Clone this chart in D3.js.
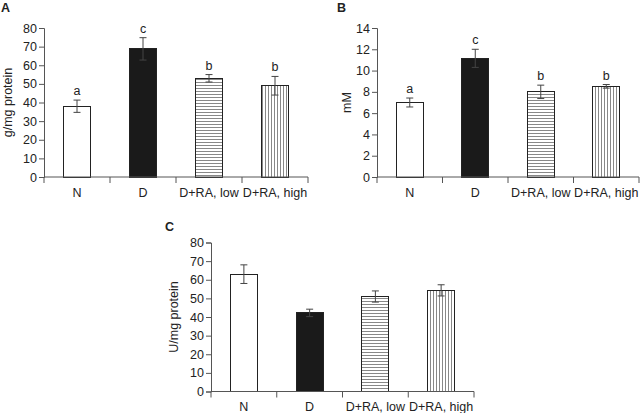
<!DOCTYPE html>
<html><head><meta charset="utf-8">
<script src="https://cdn.jsdelivr.net/npm/d3@7/dist/d3.min.js"></script>
<style>body{margin:0;background:#fff}svg{display:block}text{font-family:Arial,"Liberation Sans",sans-serif;fill:#222}</style>
</head><body><svg id="c" width="640" height="413"></svg>
<script>
const categories = ["N", "D", "D+RA, low", "D+RA, high"];
const fills = ["white", "black", "hlines", "vlines"];
const valuesA = [38, 68.8, 53, 49];
const errorsA = [3.3, 6, 2, 5];
const lettersA = ["a", "c", "b", "b"];
const ticksA = [0,10,20,30,40,50,60,70,80];
const valuesB = [7, 11.15, 8, 8.52];
const errorsB = [0.42, 0.85, 0.63, 0.17];
const lettersB = ["a", "c", "b", "b"];
const ticksB = [0,2,4,6,8,10,12,14];
const valuesC = [63, 42.2, 51, 54.3];
const errorsC = [5, 2, 3, 3];
const ticksC = [0,10,20,30,40,50,60,70,80];

const FS = 12.5;
const svg = d3.select("#c");
const defs = svg.append("defs");
const ph = defs.append("pattern").attr("id","hlines").attr("patternUnits","userSpaceOnUse").attr("width",4).attr("height",3);
ph.append("rect").attr("width",4).attr("height",3).attr("fill","white");
ph.append("line").attr("x1",0).attr("x2",4).attr("y1",1.5).attr("y2",1.5).attr("stroke","#888").attr("stroke-width",1);
const pv = defs.append("pattern").attr("id","vlines").attr("patternUnits","userSpaceOnUse").attr("width",3).attr("height",4);
pv.append("rect").attr("width",3).attr("height",4).attr("fill","white");
pv.append("line").attr("y1",0).attr("y2",4).attr("x1",1.5).attr("x2",1.5).attr("stroke","#888").attr("stroke-width",1);

function panel(o){
  const g = svg.append("g");
  const x = d3.scaleBand().domain(categories).range([o.x0, o.x1]).paddingInner(0.59).paddingOuter(0.295);
  const y = d3.scaleLinear().domain([0, o.max]).range([o.y0, o.y1]);
  g.selectAll("rect.bar").data(o.values).join("rect")
    .attr("x",(d,i)=>x(categories[i])).attr("width",x.bandwidth())
    .attr("y",d=>y(d)).attr("height",d=>y(0)-y(d))
    .attr("fill",(d,i)=>fills[i]==="white"?"white":fills[i]==="black"?"#1a1a1a":"url(#"+fills[i]+")")
    .attr("stroke","#222").attr("stroke-width",1).attr("shape-rendering","crispEdges");
  const eg = g.append("g").attr("stroke","#444").attr("stroke-width",1);
  o.values.forEach((v,i)=>{
    const cx = x(categories[i]) + x.bandwidth()/2;
    const hi = y(v+o.errors[i]), lo = y(v-o.errors[i]);
    eg.append("line").attr("x1",cx).attr("x2",cx).attr("y1",hi).attr("y2",lo);
    eg.append("line").attr("x1",cx-3.5).attr("x2",cx+3.5).attr("y1",hi).attr("y2",hi);
    eg.append("line").attr("x1",cx-3.5).attr("x2",cx+3.5).attr("y1",lo).attr("y2",lo);
    if(o.letters){
      g.append("text").attr("x",cx).attr("y",hi-5).attr("text-anchor","middle").attr("font-size",FS).text(o.letters[i]);
    }
  });
  const ya = g.append("g").attr("transform",`translate(${o.x0},0)`).call(d3.axisLeft(y).tickValues(o.ticks).tickSize(5).tickPadding(2));
  ya.select(".domain").attr("stroke","#555");
  ya.selectAll(".tick line").attr("stroke","#555");
  ya.selectAll("text").attr("font-size",FS).attr("fill","#222").attr("font-family","Arial, 'Liberation Sans', sans-serif");
  const xa = g.append("g").attr("transform",`translate(0,${o.y0})`);
  xa.append("line").attr("x1",o.x0).attr("x2",o.x1).attr("y1",0).attr("y2",0).attr("stroke","#555");
  d3.range(categories.length+1).forEach(k=>{
    const tx = o.x0 + (o.x1-o.x0)*k/categories.length;
    xa.append("line").attr("x1",tx).attr("x2",tx).attr("y1",0).attr("y2",6).attr("stroke","#555");
  });
  categories.forEach(c=>{
    xa.append("text").attr("x",x(c)+x.bandwidth()/2).attr("y",19.5).attr("text-anchor","middle").attr("font-size",FS).text(c);
  });
  g.append("text").attr("transform",`translate(${o.lx},${(o.y0+o.y1)/2}) rotate(-90)`).attr("text-anchor","middle").attr("font-size",FS).text(o.label);
  g.append("text").attr("x",o.px).attr("y",o.py).attr("font-size",12.5).attr("font-weight","900").attr("font-family","'DejaVu Sans', Arial, sans-serif").text(o.letter);
}

panel({x0:44,x1:308,y0:177,y1:28,max:80,values:valuesA,errors:errorsA,letters:lettersA,ticks:ticksA,label:"g/mg protein",lx:12,letter:"A",px:1,py:12});
panel({x0:377,x1:639,y0:177,y1:28,max:14,values:valuesB,errors:errorsB,letters:lettersB,ticks:ticksB,label:"mM",lx:351,letter:"B",px:337,py:12});
panel({x0:211,x1:474,y0:391.5,y1:242.5,max:80,values:valuesC,errors:errorsC,letters:null,ticks:ticksC,label:"U/mg protein",lx:178,letter:"C",px:165,py:231});
</script></body></html>
